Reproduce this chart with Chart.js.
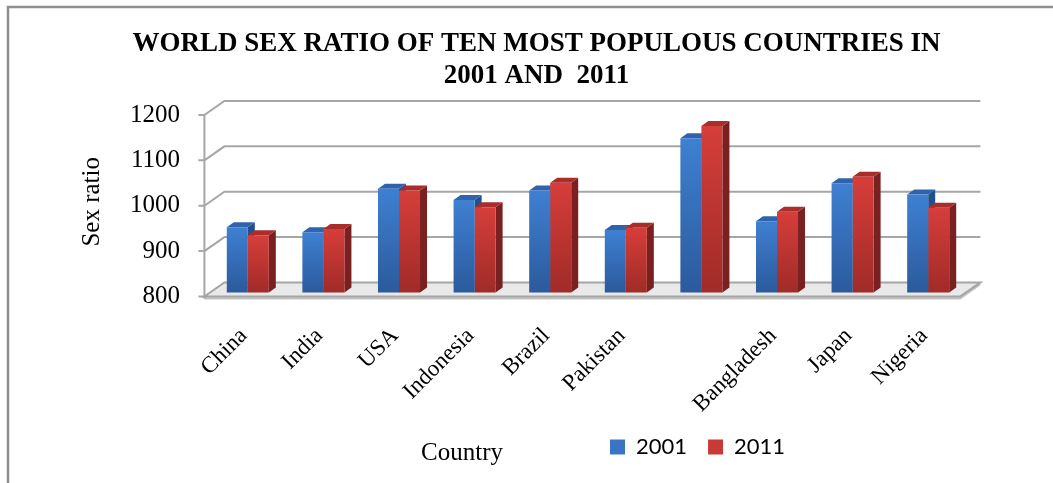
<!DOCTYPE html>
<html>
<head>
<meta charset="utf-8">
<script src="https://cdn.jsdelivr.net/npm/chart.js@4.4.1/dist/chart.umd.min.js"></script>
<style>
  body { margin: 0; background: #fff; overflow: hidden; }
  #wrap { position: relative; width: 1053px; height: 483px; }
</style>
</head>
<body>
<div id="wrap"><canvas id="sexChart"></canvas></div>
<script>
// DATA
const countries = ['China', 'India', 'USA', 'Indonesia', 'Brazil', 'Pakistan', '', 'Bangladesh', 'Japan', 'Nigeria'];
const ratio2001 = [944, 933, 1029, 1004, 1025, 938, 1140, 957, 1041, 1016];
const ratio2011 = [926, 940, 1025, 988, 1042, 943, 1167, 978, 1055, 987];
const yTicks = [800, 900, 1000, 1100, 1200];

const serif = 'Liberation Serif';

// depth of the floor and of each bar (oblique 3d look)
const DEPTH = { dx: 20, dy: -14 };
const FRONT = 0.28;
const BAR_D = { dx: 7, dy: -5 };

const faces = [
    { top: '#2f64ad', side: '#23508c' },
    { top: '#a92d2b', side: '#7b2020' }
];

function barGradient(ctx, light, dark) {
    const chart = ctx.chart;
    if (!chart.chartArea || ctx.raw === undefined) return light;
    const ys = chart.scales.y;
    const top = ys.getPixelForValue(ctx.raw);
    const g = chart.ctx.createLinearGradient(0, top, 0, ys.getPixelForValue(ys.min));
    g.addColorStop(0, light);
    g.addColorStop(1, dark);
    return g;
}

const box3d = {
    id: 'box3d',
    beforeDraw(chart) {
        const ctx = chart.ctx;
        ctx.save();
        ctx.strokeStyle = '#8f8f8f';
        ctx.lineWidth = 2.5;
        ctx.strokeRect(8, 7, 1200, 600);
        ctx.restore();
    },
    afterLayout(chart) {
        // legend sits right of the axis title, not centred
        const lg = chart.legend;
        const w = lg.right - lg.left;
        lg.left = 589;
        lg.right = lg.left + w;
    },
    beforeDatasetsDraw(chart) {
        const { ctx, chartArea: a, scales: { y } } = chart;
        const fx = -DEPTH.dx * FRONT, fy = -DEPTH.dy * FRONT;
        const bx = DEPTH.dx * (1 - FRONT), by = DEPTH.dy * (1 - FRONT);
        const y0 = y.getPixelForValue(y.min);
        ctx.save();

        // floor
        ctx.beginPath();
        ctx.moveTo(a.left + fx, y0 + fy + 3);
        ctx.lineTo(a.right + fx, y0 + fy + 3);
        ctx.lineTo(a.right + bx, y0 + by + 3);
        ctx.lineTo(a.right + bx, y0 + by);
        ctx.lineTo(a.left + bx, y0 + by);
        ctx.lineTo(a.left + fx, y0 + fy);
        ctx.closePath();
        ctx.fillStyle = '#c4c4c4';
        ctx.fill();
        ctx.beginPath();
        ctx.moveTo(a.left + fx, y0 + fy);
        ctx.lineTo(a.right + fx, y0 + fy);
        ctx.lineTo(a.right + bx, y0 + by);
        ctx.lineTo(a.left + bx, y0 + by);
        ctx.closePath();
        ctx.fillStyle = '#e9e9e9';
        ctx.fill();
        ctx.lineWidth = 2;
        ctx.strokeStyle = '#a6a6a6';
        ctx.stroke();

        // walls: side diagonals + back gridlines
        ctx.beginPath();
        y.ticks.forEach(t => {
            if (t.value === y.min) return;
            const py = y.getPixelForValue(t.value);
            ctx.moveTo(a.left + fx, py + fy);
            ctx.lineTo(a.left + bx, py + by);
            ctx.lineTo(a.right + bx, py + by);
        });
        // front value axis with tick marks
        ctx.moveTo(a.left + fx, y.getPixelForValue(y.max) + fy);
        ctx.lineTo(a.left + fx, y0 + fy + 2);
        y.ticks.forEach(t => {
            const py = y.getPixelForValue(t.value) + fy;
            ctx.moveTo(a.left + fx - 6, py);
            ctx.lineTo(a.left + fx, py);
        });
        ctx.stroke();

        // bar sides and tops, per category so neighbours overlap properly
        const metas = chart.getSortedVisibleDatasetMetas();
        for (let i = 0; i < countries.length; i++) {
            metas.forEach((meta, d) => {
                const bar = meta.data[i];
                const { x, y: top, width } = bar.getProps(['x', 'y', 'width'], true);
                const base = y0;
                const xl = x - width / 2, xr = x + width / 2;
                ctx.beginPath();
                ctx.moveTo(xr, top);
                ctx.lineTo(xr + BAR_D.dx, top + BAR_D.dy);
                ctx.lineTo(xr + BAR_D.dx, base + BAR_D.dy);
                ctx.lineTo(xr, base);
                ctx.closePath();
                ctx.fillStyle = faces[d].side;
                ctx.fill();
                ctx.beginPath();
                ctx.moveTo(xl, top);
                ctx.lineTo(xl + BAR_D.dx, top + BAR_D.dy);
                ctx.lineTo(xr + BAR_D.dx, top + BAR_D.dy);
                ctx.lineTo(xr, top);
                ctx.closePath();
                ctx.fillStyle = faces[d].top;
                ctx.fill();
            });
        }
        ctx.restore();
    },
    afterDraw(chart) {
        const ctx = chart.ctx;
        ctx.save();
        ctx.font = '25px "' + serif + '"';
        ctx.fillStyle = '#000';
        ctx.textAlign = 'center';
        ctx.textBaseline = 'middle';
        ctx.fillText('Country', 462, 453);
        ctx.restore();
    }
};

const data = {
    labels: countries,
    datasets: [{
        label: '2001',
        data: ratio2001,
        backgroundColor: c => barGradient(c, '#3f80d2', '#2b5a9c'),
        solid: '#3a74c4'
    }, {
        label: '2011',
        data: ratio2011,
        backgroundColor: c => barGradient(c, '#d63e3a', '#a02b28'),
        solid: '#c93a36'
    }]
};

const config = {
    type: 'bar',
    data: data,
    plugins: [box3d],
    options: {
        responsive: true,
        maintainAspectRatio: false,
        animation: false,
        datasets: {
            bar: {
                categoryPercentage: 0.556,
                barPercentage: 1,
                borderWidth: 0
            }
        },
        layout: {
            padding: { left: 20, right: 0, top: 0, bottom: 15 }
        },
        scales: {
            x: {
                grid: { display: true, drawOnChartArea: false, drawTicks: false, color: 'transparent' },
                border: { display: false },
                ticks: {
                    autoSkip: false,
                    maxRotation: 45,
                    minRotation: 45,
                    padding: 30,
                    labelOffset: -4,
                    color: '#000',
                    font: { family: serif, size: 23 }
                },
                afterFit: s => { s.height = 122.5; }
            },
            y: {
                min: 800,
                max: 1200,
                grid: { display: true, drawOnChartArea: false, drawTicks: false, color: 'transparent' },
                border: { display: false },
                ticks: {
                    stepSize: 100,
                    padding: 30,
                    labelOffset: 4,
                    color: '#000',
                    font: { family: serif, size: 25 },
                    callback: v => yTicks.includes(v) ? String(v) : ''
                },
                title: {
                    display: true,
                    text: 'Sex ratio',
                    color: '#000',
                    padding: { top: 57, bottom: 0 },
                    font: { family: serif, size: 25 }
                },
                afterFit: s => { s.width = 190; }
            },
            // empty right-hand strip so the title centres like the original
            spacer: {
                type: 'linear',
                position: 'right',
                display: true,
                grid: { display: false },
                border: { display: false },
                ticks: { display: false },
                afterFit: s => { s.width = 87; }
            }
        },
        plugins: {
            title: {
                display: true,
                text: ['WORLD SEX RATIO OF TEN MOST POPULOUS COUNTRIES IN', '2001 AND  2011'],
                color: '#000',
                padding: { top: 29, bottom: 20 },
                font: { family: serif, size: 27, weight: 'bold', lineHeight: 1.15 }
            },
            legend: {
                position: 'bottom',
                align: 'start',
                labels: {
                    boxWidth: 15,
                    boxHeight: 15,
                    padding: 21,
                    color: '#000',
                    font: { family: 'Lato', size: 22 },
                    generateLabels: chart => chart.data.datasets.map((ds, i) => ({
                        text: ds.label,
                        fillStyle: ds.solid,
                        strokeStyle: ds.solid,
                        lineWidth: 0,
                        datasetIndex: i
                    }))
                }
            },
            tooltip: { enabled: false }
        }
    }
};

let sexChart = new Chart(
    document.getElementById('sexChart'),
    config
);
</script>
</body>
</html>
